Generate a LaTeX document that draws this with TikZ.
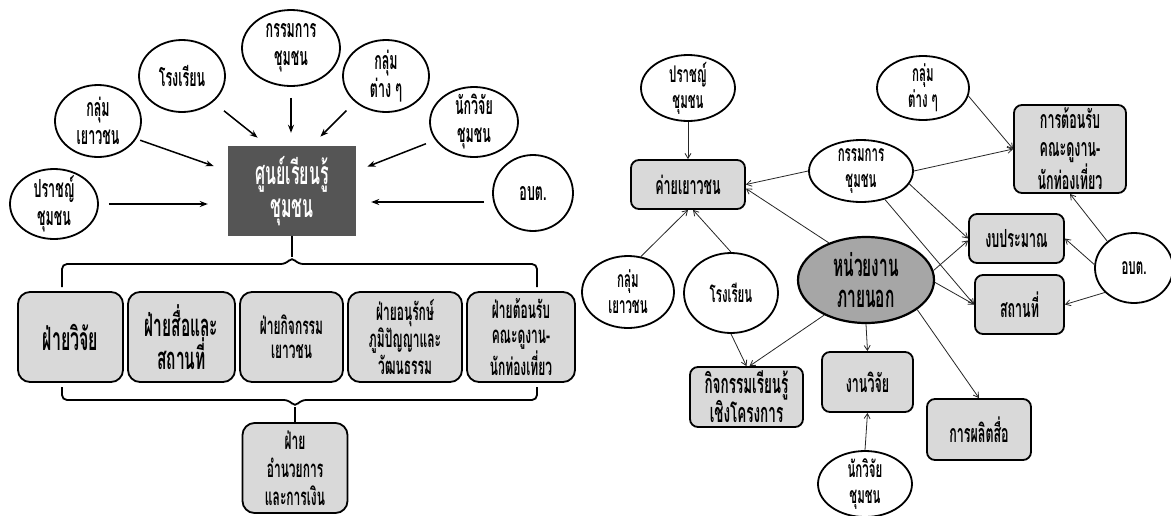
\documentclass[tikz,border=0pt]{standalone}
\usepackage{fontspec}
\setmainfont[Script=Thai,FakeStretch=0.5]{Loma}
\usetikzlibrary{shapes.geometric,arrows.meta,calc}
\definecolor{boxgray}{HTML}{D9D9D9}
\definecolor{darkbox}{HTML}{555555}
\definecolor{hngray}{HTML}{A6A6A6}
\tikzset{
  lell/.style={ellipse, draw, line width=1.8pt, fill=white, inner xsep=-2pt, inner ysep=-12pt, align=center,
    font=\fontsize{25}{28}\selectfont\bfseries},
  lbox/.style={rectangle, rounded corners=12pt, draw, line width=1.8pt, fill=boxgray,
    inner sep=0pt, align=center, minimum height=90pt},
  larr/.style={-{Stealth[length=8pt,width=6pt]}, line width=1.5pt},
  brk/.style={line width=1.8pt, rounded corners=5pt},
  rell/.style={ellipse, draw, line width=1.8pt, fill=white, inner xsep=-2pt, inner ysep=-12pt, align=center,
    font=\fontsize{23}{26}\selectfont\bfseries},
  rbox/.style={rectangle, rounded corners=8pt, draw, line width=1.8pt, fill=boxgray,
    inner sep=0pt, align=center, font=\fontsize{25}{28}\selectfont\bfseries},
  rarr/.style={-{Straight Barb[length=5pt,width=6pt]}, line width=0.8pt, black!85},
}
\begin{document}
\begin{tikzpicture}[x=1pt,y=-1pt]
\useasboundingbox[fill=white] (0,0) rectangle (1171,515);

% ---------------- left diagram ----------------
\node[lell, minimum width=98pt, minimum height=76pt] (kum) at (291,48) {กรรมการ\\ชุมชน};
\node[lell, minimum width=86pt, minimum height=72pt] (rong) at (182,76) {โรงเรียน};
\node[lell, minimum width=86pt, minimum height=72pt] (yao) at (98,121) {กลุ่ม\\เยาวชน};
\node[lell, minimum width=88pt, minimum height=70pt] (prat) at (54,204) {ปราชญ์\\ชุมชน};
\node[lell, minimum width=86pt, minimum height=72pt] (tang) at (386,76) {กลุ่ม\\ต่าง ๆ};
\node[lell, minimum width=88pt, minimum height=70pt] (nak) at (474,122) {นักวิจัย\\ชุมชน};
\node[lell, minimum width=80pt, minimum height=76pt] (obt) at (533,193) {อบต.};

\node[rectangle, fill=darkbox, minimum width=128pt, minimum height=90pt, text=white,
  align=center, inner sep=0pt, font=\fontsize{32}{33}\selectfont\bfseries] (dbox) at (292,191) {ศูนย์เรียนรู้\\ชุมชน};

\draw[larr, shorten <=10pt, shorten >=20pt] (prat.east) -- (prat.east -| dbox.west);
\draw[larr, shorten <=8pt, shorten >=15pt] ([yshift=-9pt]obt.west) -- ([yshift=-9pt]obt.west -| dbox.east);
\draw[larr, shorten <=4pt, shorten >=15pt] (yao.-25) -- ([yshift=20pt]dbox.west);
\draw[larr, shorten <=14pt, shorten >=13pt] (rong.-40) -- ([xshift=40pt]dbox.north west);
\draw[larr, shorten <=11pt, shorten >=13pt] (kum.south) -- (kum.south |- dbox.north);
\draw[larr, shorten <=12pt, shorten >=13pt] (tang.-140) -- ([xshift=-45pt]dbox.north east);
\draw[larr, shorten <=10pt, shorten >=12pt] (nak.-155) -- ([yshift=20pt]dbox.east);

\node[lbox, minimum width=105pt, font=\fontsize{32}{30}\selectfont\bfseries] (b1) at (70.5,337) {ฝ่ายวิจัย};
\node[lbox, minimum width=107pt, font=\fontsize{31}{30}\selectfont\bfseries] (b2) at (181.5,337) {ฝ่ายสื่อและ\\สถานที่};
\node[lbox, minimum width=103pt, font=\fontsize{24}{24}\selectfont\bfseries] (b3) at (291.5,337) {ฝ่ายกิจกรรม\\เยาวชน};
\node[lbox, minimum width=114pt, font=\fontsize{24}{25}\selectfont\bfseries] (b4) at (405,337) {ฝ่ายอนุรักษ์\\ภูมิปัญญาและ\\วัฒนธรรม};
\node[lbox, minimum width=108pt, font=\fontsize{24}{25}\selectfont\bfseries] (b5) at (521,337) {ฝ่ายต้อนรับ\\คณะดูงาน-\\นักท่องเที่ยว};
\node[lbox, minimum width=105pt, font=\fontsize{24}{28}\selectfont\bfseries] (bf) at (295,468) {ฝ่าย\\อำนวยการ\\และการเงิน};

\coordinate (tcusp) at (292,257);
\coordinate (bcusp) at (295,407);
\draw[brk] (62,287) -- (62,264) -- (286,264) -- (tcusp) -- (298,264) -- (537,264) -- (537,287);
\draw[line width=1.8pt] (dbox.south) -- (tcusp);
\draw[brk] (62,387) -- (62,400) -- (289,400) -- (bcusp) -- (301,400) -- (537,400) -- (537,387);
\draw[line width=1.8pt] (bcusp) -- (bf.north);

% ---------------- right diagram ----------------
\node[rell, minimum width=94pt, minimum height=66pt] (rprat) at (688,88) {ปราชญ์\\ชุมชน};
\node[rell, minimum width=92pt, minimum height=64pt] (rtang) at (923,88) {กลุ่ม\\ต่าง ๆ};
\node[rell, minimum width=104pt, minimum height=62pt] (rkum) at (861,171) {กรรมการ\\ชุมชน};
\node[rell, minimum width=78pt, minimum height=70pt] (robt) at (1134,268) {อบต.};
\node[rell, minimum width=136pt, minimum height=86pt, fill=hngray, line width=2.2pt,
  font=\fontsize{31}{31}\selectfont\bfseries] (rhn) at (866,280) {หน่วยงาน\\ภายนอก};
\node[rell, minimum width=92pt, minimum height=72pt] (ryao) at (628,292) {กลุ่ม\\เยาวชน};
\node[rell, minimum width=94pt, minimum height=80pt] (rrong) at (731,293) {โรงเรียน};
\node[rell, minimum width=94pt, minimum height=66pt] (rnak) at (865,484) {นักวิจัย\\ชุมชน};

\node[rbox, minimum width=114pt, minimum height=49pt] (rkai) at (688,184.5) {ค่ายเยาวชน};
\node[rbox, minimum width=112pt, minimum height=88pt] (rton) at (1070,149) {การต้อนรับ\\คณะดูงาน-\\นักท่องเที่ยว};
\node[rbox, minimum width=95pt, minimum height=49pt] (rngob) at (1016.5,238.5) {งบประมาณ};
\node[rbox, minimum width=89pt, minimum height=59pt] (rsat) at (1019.5,304.5) {สถานที่};
\node[rbox, minimum width=113pt, minimum height=60pt, font=\fontsize{27}{29}\selectfont\bfseries] (rkij) at (746.5,397) {กิจกรรมเรียนรู้\\เชิงโครงการ};
\node[rbox, minimum width=91pt, minimum height=60pt] (rwijai) at (867.5,382) {งานวิจัย};
\node[rbox, minimum width=104pt, minimum height=61pt] (rpalit) at (979,429.5) {การผลิตสื่อ};

\draw[rarr] (rprat.south) -- (rkai.north);
\draw[rarr] (rkum.west) -- (rkai.east);
\draw[rarr] (rhn.135) -- ([yshift=-4pt]rkai.east);
\draw[rarr] (ryao.70) -- (rkai.south);
\draw[rarr] (rrong.north) -- ([xshift=5pt]rkai.south);
\draw[rarr] (rkum.east) -- (rton.west);
\draw[rarr] (rtang.-10) -- (rton.west);
\draw[rarr] (rkum.-15) -- (rngob.west);
\draw[rarr] (rkum.-50) -- (rsat.west);
\draw[rarr] (rhn.8) -- ([yshift=-2pt]rngob.west);
\draw[rarr] (rhn.-2) -- (rsat.west);
\draw[rarr] (robt.135) -- (rton.south);
\draw[rarr] (robt.175) -- (rngob.east);
\draw[rarr] (robt.220) -- (rsat.east);
\draw[rarr] (rhn.-140) -- ([xshift=3pt]rkij.north);
\draw[rarr] (rrong.south) -- (rkij.north);
\draw[rarr] (rhn.south) -- (rwijai.north);
\draw[rarr] (rnak.north) -- (rwijai.south);
\draw[rarr] (rhn.-30) -- (rpalit.north);
\end{tikzpicture}
\end{document}
